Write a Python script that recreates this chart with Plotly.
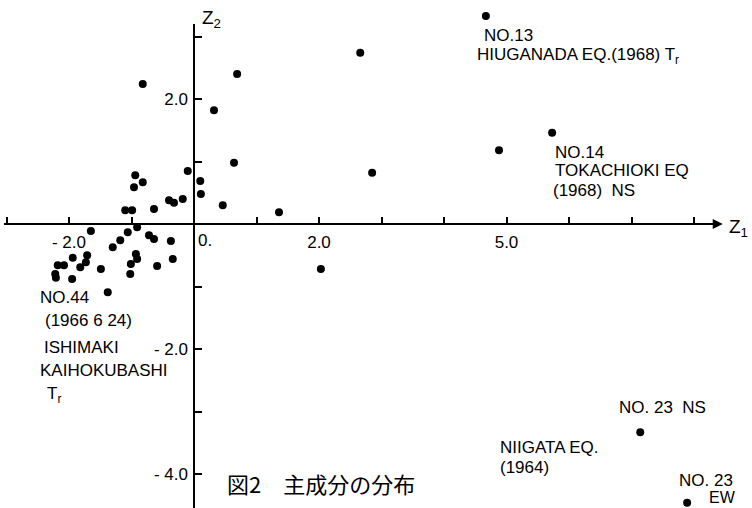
import plotly.graph_objects as go

# Principal component scores (Z1, Z2)
z1 = [-0.10, -0.94, -0.82, -0.96, -0.40, -0.32, -0.18, -1.10, -0.99, -0.64,
      -1.65, -0.91, -1.06, -0.72, -0.64, -0.37, -1.18, -1.30, -0.93, -1.71,
      -1.94, -0.91, -1.73, -2.18, -2.08, -1.01, -0.34, -1.82, -1.49, -0.59,
      -1.02, -2.22, -2.21, -1.95, -1.38, -0.82, 0.69, 0.32, 0.64, 0.10,
      0.11, 0.46, 1.36, 2.66, 2.85, 2.03, 4.67, 5.73, 4.88, 7.14, 7.89]
z2 = [0.85, 0.78, 0.67, 0.59, 0.38, 0.34, 0.40, 0.22, 0.22, 0.24,
      -0.11, -0.05, -0.13, -0.18, -0.24, -0.27, -0.26, -0.37, -0.48, -0.50,
      -0.54, -0.56, -0.61, -0.66, -0.66, -0.64, -0.56, -0.69, -0.72, -0.67,
      -0.80, -0.80, -0.86, -0.88, -1.09, 2.24, 2.40, 1.82, 0.98, 0.69,
      0.48, 0.30, 0.19, 2.74, 0.82, -0.72, 3.33, 1.46, 1.18, -3.33, -4.46]

x_tick_vals = [-2, 2, 5]
x_tick_text = ["- 2.0", "2.0", "5.0"]
y_tick_vals = [-4, -2, 2]
y_tick_text = ["- 4.0", "- 2.0", "2.0"]

XR = [-3.104, 8.928]
YR = [-4.544, 3.584]
FONT = "Liberation Sans, Arial, sans-serif"

fig = go.Figure()
fig.add_trace(go.Scatter(x=z1, y=z2, mode="markers",
                         marker=dict(size=8, color="black"),
                         hoverinfo="x+y", showlegend=False))

# axis lines through the origin
fig.add_shape(type="line", x0=-3.04, x1=8.30, y0=0, y1=0,
              line=dict(color="black", width=2))
fig.add_shape(type="line", x0=0, x1=0, y0=-4.6, y1=3.2,
              line=dict(color="black", width=2))
fig.add_annotation(x=8.46, y=0, ax=8.15, ay=0, xref="x", yref="y",
                   axref="x", ayref="y", text="", showarrow=True,
                   arrowhead=2, arrowsize=1, arrowwidth=2, arrowcolor="black")

ann = [
    ("Z<sub>2</sub>", 0.10, 3.28, 19),
    ("Z<sub>1</sub>", 8.53, -0.06, 19),
    ("0.", 0.03, -0.27, 17),
    ("NO.13", 4.61, 3.02, 17),
    ("HIUGANADA EQ.(1968) T<sub>r</sub>", 4.50, 2.69, 17),
    ("NO.14", 5.74, 1.15, 17),
    ("TOKACHIOKI EQ", 5.74, 0.85, 17),
    ("(1968)  NS", 5.71, 0.54, 17),
    ("NO.44", -2.50, -1.17, 17),
    ("(1966 6 24)", -2.42, -1.54, 17),
    ("ISHIMAKI", -2.43, -1.98, 17),
    ("KAIHOKUBASHI", -2.50, -2.34, 17),
    ("T<sub>r</sub>", -2.38, -2.74, 17),
    ("NO. 23  NS", 6.77, -2.94, 17),
    ("NIIGATA EQ.", 4.86, -3.58, 17),
    ("(1964)", 4.86, -3.89, 17),
    ("NO. 23", 7.73, -4.11, 17),
    ("EW", 8.21, -4.38, 16),
]
for text, x, y, s in ann:
    fig.add_annotation(x=x, y=y, xref="x", yref="y", text=text,
                       showarrow=False, xanchor="left", yanchor="middle",
                       font=dict(family=FONT, size=s, color="black"))
fig.add_annotation(x=0.50, y=-4.14, xref="x", yref="y",
                   text="図2　主成分の分布", showarrow=False,
                   xanchor="left", yanchor="middle",
                   font=dict(family="Noto Sans CJK JP", size=22, color="black"))

tick_common = dict(ticks="inside", ticklen=7, tickwidth=2, tickcolor="black")
fig.update_layout(
    width=752, height=508,
    margin=dict(l=0, r=0, t=0, b=0),
    paper_bgcolor="white", plot_bgcolor="white",
    font=dict(family=FONT, size=17, color="black"),
    xaxis=dict(range=XR, showgrid=False, zeroline=False, showline=False,
               anchor="free", position=(0 - YR[0]) / (YR[1] - YR[0]),
               tickmode="array", tickvals=x_tick_vals, ticktext=x_tick_text,
               ticklabelstandoff=6, fixedrange=True,
               minor=dict(tickmode="linear", tick0=0, dtick=1, showgrid=False,
                          **tick_common),
               **tick_common),
    yaxis=dict(range=YR, showgrid=False, zeroline=False, showline=False,
               anchor="free", position=(0 - XR[0]) / (XR[1] - XR[0]),
               tickmode="array", tickvals=y_tick_vals, ticktext=y_tick_text,
               ticklabelstandoff=6, fixedrange=True,
               minor=dict(tickmode="linear", tick0=0, dtick=1, showgrid=False,
                          **tick_common),
               **tick_common),
)

fig.write_html(
    "out.html",
    config={"displayModeBar": False},
    post_script="document.body.style.margin='0';"
                "document.body.style.overflow='hidden';",
)
